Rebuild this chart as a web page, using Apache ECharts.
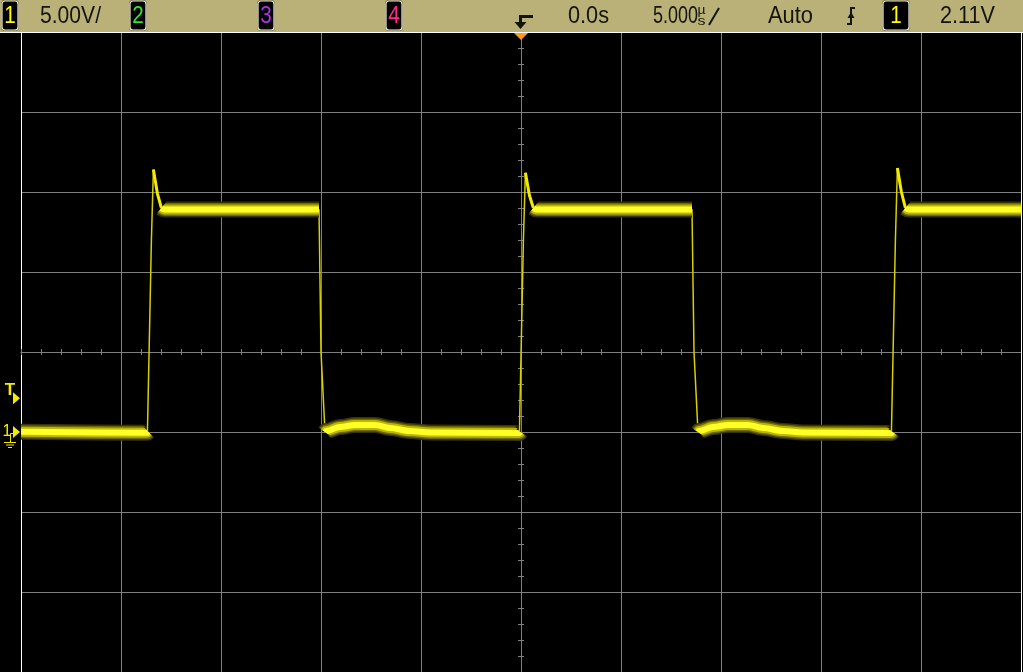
<!DOCTYPE html>
<html><head><meta charset="utf-8">
<style>html,body{margin:0;padding:0;background:#000;}#c{width:1023px;height:672px;}</style>
<script src="https://cdn.jsdelivr.net/npm/echarts@6/dist/echarts.min.js"></script>
</head><body><div id="c"></div>
<script>
// ---- data (time in µs, voltage in V) ----
const timeUs = [-25, -18.68, -18.63, -18.48, -18.38, -18.18, -17.98, -17.83, -10.10, -10.00, -9.80,
  -9.75, -9.05, -8.30, -7.30, -6.55, -5.55, -4.55, -0.08,
  -0.03, 0.12, 0.22, 0.42, 0.62, 0.77, 8.55, 8.65, 8.85,
  8.90, 9.60, 10.35, 11.35, 12.10, 13.10, 14.10, 18.52,
  18.57, 18.72, 18.82, 19.02, 19.22, 19.37, 25];
const voltsV = [0.02, -0.04, 0.0, 12.0, 16.4, 14.9, 14.0, 13.9, 13.9, 5.0, 0.0,
  0.06, 0.31, 0.44, 0.44, 0.25, 0.06, -0.03, -0.06,
  0.0, 12.0, 16.2, 14.8, 14.0, 13.9, 13.9, 5.0, 0.0,
  0.06, 0.31, 0.44, 0.44, 0.25, 0.06, -0.03, -0.06,
  0.0, 12.0, 16.5, 15.0, 14.0, 13.9, 13.9];
const xRange = [-25, 25];      // 10 div x 5 µs
const yRange = [-15, 25];      // 8 div x 5 V, ground at 0 V
const trigLevel = 2.11;
const headerLabels = ['5.00V/', '0.0s', '5.000', 'Auto', '2.11V'];
const channelDigits = ['1', '2', '3', '4'];

// split trace into parts by slope
function segData(test) {
  const out = []; let open = false;
  for (let i = 0; i < timeUs.length - 1; i++) {
    const s = Math.abs((voltsV[i + 1] - voltsV[i]) / (timeUs[i + 1] - timeUs[i]));
    if (test(s)) {
      if (!open) { out.push([timeUs[i], voltsV[i]]); open = true; }
      out.push([timeUs[i + 1], voltsV[i + 1]]);
    } else if (open) { out.push([timeUs[i], null]); open = false; }
  }
  return out;
}
const full = timeUs.map((t, i) => [t, voltsV[i]]);
const band = segData(s => s < 3);
const spike = segData(s => s >= 3 && s < 15);

const chart = echarts.init(document.getElementById('c'), null, {renderer: 'canvas'});
const GRAY = '#808080';
const gridBox = {left: 21, top: 32, width: 1000, height: 640};
function tickAxes(inside, gi) {
  return {
    x: {gridIndex: gi, type: 'value', min: xRange[0], max: xRange[1], interval: 1,
      axisLine: {show: true, onZero: true, lineStyle: {color: GRAY, width: 1}},
      axisTick: {show: true, inside: inside, length: 3, lineStyle: {color: GRAY}},
      axisLabel: {show: false}, splitLine: {show: false}},
    y: {gridIndex: gi, type: 'value', min: -4, max: 4, interval: 0.2,
      axisLine: {show: true, onZero: true, lineStyle: {color: GRAY, width: 1}},
      axisTick: {show: true, inside: inside, length: 3, lineStyle: {color: GRAY}},
      axisLabel: {show: false}, splitLine: {show: false}}
  };
}
const tA = tickAxes(false, 1), tB = tickAxes(true, 2);
const bandLayers = [[16, '#35330a'], [13, '#6e6900'], [10, '#bdb600'], [6, '#ffff28']];

const series = [{
  type: 'line', data: full, showSymbol: false, silent: true, z: 2,
  lineStyle: {width: 1.5, color: '#d8d000'}
}];
bandLayers.forEach((l, i) => series.push({
  type: 'line', data: band, showSymbol: false, silent: true, z: 3 + i,
  smooth: 0.35, smoothMonotone: 'x', connectNulls: false,
  lineStyle: {width: l[0], color: l[1], cap: 'butt', join: 'bevel'}
}));
series.push({type: 'line', data: spike, showSymbol: false, silent: true, z: 8, connectNulls: false,
  lineStyle: {width: 3, color: '#f2ea00'}});

chart.setOption({
  backgroundColor: '#000',
  animation: false,
  grid: [gridBox, gridBox, gridBox],
  xAxis: [{gridIndex: 0, type: 'value', min: xRange[0], max: xRange[1], interval: 5, position: 'top',
      axisLine: {show: false}, axisTick: {show: false}, axisLabel: {show: false},
      splitLine: {show: true, lineStyle: {color: GRAY, width: 1}}}, tA.x, tB.x],
  yAxis: [{gridIndex: 0, type: 'value', min: yRange[0], max: yRange[1], interval: 5,
      axisLine: {show: true, onZero: false, lineStyle: {color: '#ffffff', width: 1}},
      axisTick: {show: false}, axisLabel: {show: false},
      splitLine: {show: true, lineStyle: {color: GRAY, width: 1}}}, tA.y, tB.y],
  series: series
});

// ---- header & markers ----
const mctx = document.createElement('canvas').getContext('2d');
const FONT = '"Liberation Sans", Arial, sans-serif';
function fitText(text, x, yc, targetW, color, size, align) {
  const font = size + 'px ' + FONT;
  mctx.font = font;
  const sx = targetW ? targetW / mctx.measureText(text).width : 0.86;
  return {type: 'text', x: x, y: yc, scaleX: sx, z: 120,
    style: {text: text, fill: color, font: font, textAlign: align || 'left', align: align || 'left',
      textVerticalAlign: 'middle', verticalAlign: 'middle'}};
}
const INK = '#141408';
const g = [];
g.push({type: 'rect', shape: {x: 0, y: 0, width: 1023, height: 32}, style: {fill: '#bab178'}, z: 100});
g.push({type: 'rect', shape: {x: 0, y: 32, width: 1023, height: 1}, style: {fill: '#ffffff'}, z: 101});
g.push({type: 'rect', shape: {x: 1021, y: 32, width: 1, height: 640}, style: {fill: '#ffffff'}, z: 101});
function box(x, w, digit, color) {
  g.push({type: 'rect', shape: {x: x - 1, y: 0, width: w + 2, height: 31, r: 4}, style: {fill: '#5e5428'}, z: 110});
  g.push({type: 'rect', shape: {x: x, y: 1, width: w, height: 29, r: 3},
    style: {fill: '#000', stroke: '#f2eed8', lineWidth: 1.2}, z: 111});
  g.push(fitText(digit, x + w / 2, 16.3, 0, color, 24, 'center'));
}
const digitColors = ['#ffff00', '#2ee82e', '#b030f0', '#ff2a88'];
const boxX = [2, 130, 258, 386];
channelDigits.forEach((d, i) => box(boxX[i], 16, d, digitColors[i]));
box(883, 26, channelDigits[0], '#ffff00');
g.push(fitText(headerLabels[0], 40, 16.3, 61, INK, 24));
g.push(fitText(headerLabels[1], 568, 16.3, 41, INK, 24));
g.push(fitText(headerLabels[2], 653, 16.3, 45, INK, 24));
g.push(fitText('µ', 701.5, 11, 8, INK, 12, 'center'));
g.push(fitText('s', 701.5, 21, 8, INK, 13, 'center'));
g.push({type: 'line', shape: {x1: 709, y1: 25, x2: 719, y2: 8}, style: {stroke: INK, lineWidth: 2}, z: 120});
g.push(fitText(headerLabels[3], 768, 16.3, 45, INK, 24));
g.push(fitText(headerLabels[4], 940, 16.3, 55, INK, 24));
// trigger slope icon
g.push({type: 'polyline', shape: {points: [[847, 24], [851, 24], [851, 8], [855, 8]]},
  style: {stroke: INK, lineWidth: 2, fill: null}, z: 120});
g.push({type: 'polygon', shape: {points: [[847.5, 18], [854.5, 18], [851, 12]]}, style: {fill: INK}, z: 120});

const c0 = chart.convertToPixel({xAxisIndex: 0, yAxisIndex: 0}, [0, 0]);
const pT = chart.convertToPixel({xAxisIndex: 0, yAxisIndex: 0}, [0, trigLevel]);
const cx = c0[0], y0 = c0[1], yT = pT[1];
// trigger position icon
g.push({type: 'polyline', shape: {points: [[cx + 12, 16.5], [cx - 0.5, 16.5], [cx - 0.5, 23]]},
  style: {stroke: INK, lineWidth: 3, fill: null}, z: 120});
g.push({type: 'polygon', shape: {points: [[cx - 6.5, 22], [cx + 5.5, 22], [cx - 0.5, 29]]}, style: {fill: INK}, z: 120});
g.push({type: 'polygon', shape: {points: [[cx - 7, 33], [cx + 7, 33], [cx, 40]]}, style: {fill: '#ff9922'}, z: 120});
// left markers
const YEL = '#f4ec00';
g.push({type: 'text', x: 10, y: yT - 7.5, z: 120,
  style: {text: 'T', fill: YEL, font: 'bold 17px ' + FONT, textAlign: 'center', align: 'center',
    textVerticalAlign: 'middle', verticalAlign: 'middle'}});
g.push({type: 'polygon', shape: {points: [[13, yT - 6], [13, yT + 6], [20, yT]]}, style: {fill: YEL}, z: 120});
g.push({type: 'text', x: 7, y: y0 - 0.5, z: 120,
  style: {text: '1', fill: YEL, font: '16px ' + FONT, textAlign: 'center', align: 'center',
    textVerticalAlign: 'middle', verticalAlign: 'middle'}});
g.push({type: 'polygon', shape: {points: [[13, y0 - 6], [13, y0 + 6], [20, y0]]}, style: {fill: YEL}, z: 120});
g.push({type: 'polyline', shape: {points: [[13, y0 + 1.5], [10.5, y0 + 1.5], [10.5, y0 + 10]]},
  style: {stroke: YEL, lineWidth: 1, fill: null}, z: 120});
[[4, 16, 10], [6, 14, 12.5], [8, 12, 15]].forEach(r => g.push({type: 'rect',
  shape: {x: r[0], y: y0 + r[2], width: r[1] - r[0], height: 1}, style: {fill: YEL}, z: 120}));

chart.setOption({graphic: {elements: g}});
</script></body></html>
